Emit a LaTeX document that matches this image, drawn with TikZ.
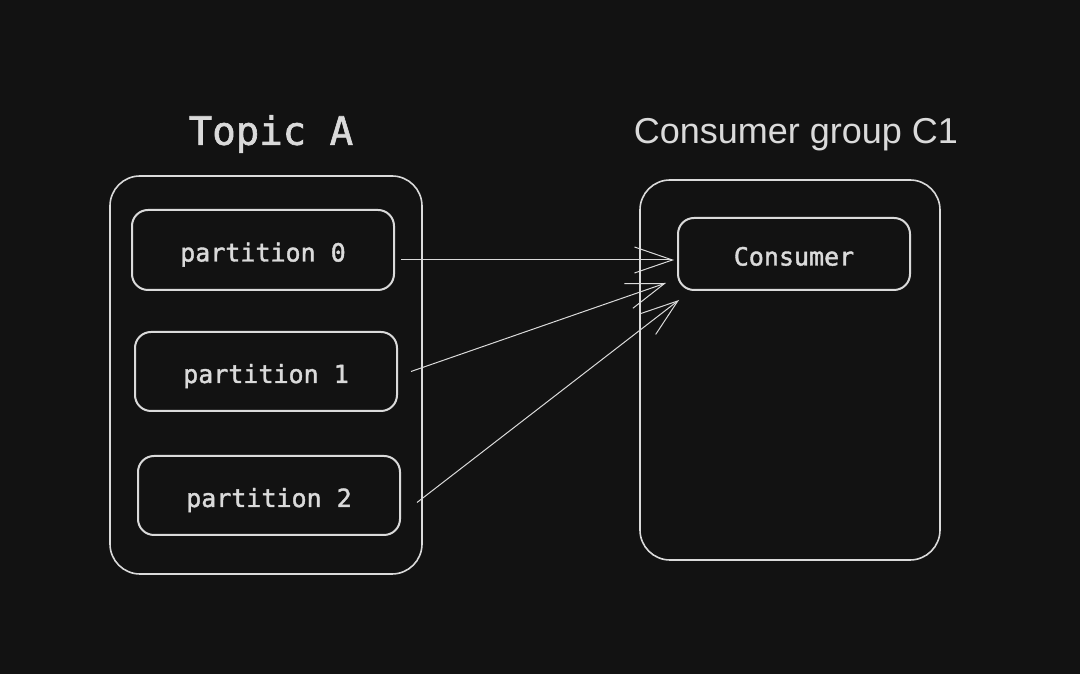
\documentclass[tikz,border=0pt]{standalone}
\usepackage{fontspec}
\setmainfont{Liberation Sans}
\newfontfamily\codefont[FakeBold=1.6,AutoFakeBold=1.6]{DejaVu Sans Mono}
\usetikzlibrary{arrows.meta}
\definecolor{bg}{HTML}{121212}
\definecolor{ink}{HTML}{DADADA}
\tikzset{
  outerbox/.style={draw=ink, line width=1.6pt, rounded corners=30pt, inner sep=0pt},
  innerbox/.style={draw=ink, line width=2pt, rounded corners=16pt, inner sep=0pt,
    text height=23pt, text depth=0pt,
    text=ink, font=\codefont\bfseries\fontsize{25}{30}\selectfont},
  conn/.style={draw=ink, line width=1pt, -{Straight Barb[length=38pt,width=26pt,line width=1pt]}},
  title/.style={text=ink, inner sep=0pt}
}
\begin{document}
\begin{tikzpicture}[x=1pt,y=1pt]
\fill[bg] (0,0) rectangle (1080,674);
\useasboundingbox (0,0) rectangle (1080,674);
% Topic A
\node[outerbox, minimum width=312pt, minimum height=398pt] (topic) at (266,299) {};
\node[title, font=\codefont\bfseries\fontsize{39}{45}\selectfont] (topiclabel) at (271,540) {Topic A};
\node[innerbox, minimum width=262pt, minimum height=80pt] (p0) at (263,424) {partition 0};
\node[innerbox, minimum width=262pt, minimum height=79pt] (p1) at (266,302.5) {partition 1};
\node[innerbox, minimum width=262pt, minimum height=79pt] (p2) at (269,178.5) {partition 2};
% Consumer group
\node[outerbox, minimum width=300pt, minimum height=380pt] (group) at (790,304) {};
\node[title, font=\fontsize{36}{42}\selectfont] (grouplabel) at (796,539) {Consumer group C1};
\node[innerbox, minimum width=232pt, minimum height=72pt] (cons) at (794,420) {Consumer};
% connector ends
\coordinate (s0) at ([shift={(6pt,-10pt)}]p0.east);
\coordinate (s1) at ([shift={(13pt,0pt)}]p1.east);
\coordinate (s2) at ([shift={(16pt,-7pt)}]p2.east);
\coordinate (e0) at ([shift={(-3pt,-6pt)}]cons.west);
\coordinate (e1) at ([shift={(-11pt,-29pt)}]cons.west);
\coordinate (e2) at ([shift={(2pt,-46pt)}]cons.west);
\draw[conn] (s0) -- (e0);
\draw[conn] (s1) -- (e1);
\draw[conn] (s2) -- (e2);
\end{tikzpicture}
\end{document}
